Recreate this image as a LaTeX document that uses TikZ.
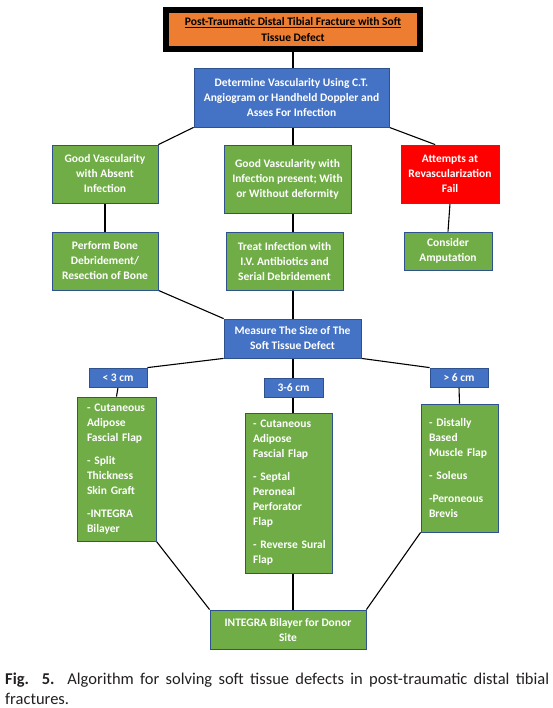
\documentclass[tikz,border=0pt]{standalone}
\usepackage{fontspec}
\setmainfont{Carlito}
\usepackage{xcolor}
\usepackage{tikz}
\usetikzlibrary{calc}
\pgfdeclarelayer{background}
\pgfsetlayers{background,main}
\definecolor{boxgreen}{HTML}{70AD47}
\definecolor{boxblue}{HTML}{4472C4}
\definecolor{boxorange}{HTML}{ED7D31}
\definecolor{boxred}{HTML}{FF0000}
\definecolor{boxedge}{HTML}{2F528F}
\definecolor{captext}{HTML}{231F20}
\tikzset{
	basebox/.style={
		rectangle,
		draw=boxedge, line width=0.8pt,
		text=white,
		align=center,
		inner sep=2pt,
		font={\fontsize{11.5pt}{15pt}\selectfont\bfseries}
	},
	bluebox/.style={basebox, fill=boxblue},
	greenbox/.style={basebox, fill=boxgreen},
	redbox/.style={basebox, fill=boxred},
	listbox/.style={
		greenbox,
		align=left,
		inner xsep=0pt,
		execute at begin node={\leftskip=#1}
	},
	titlebox/.style={
		rectangle,
		draw=black, line width=6pt,
		fill=boxorange,
		text=black,
		align=center,
		font={\fontsize{11.5pt}{16pt}\selectfont\bfseries}
	},
	boxsize/.style 2 args={minimum width=#1, minimum height=#2},
	line/.style={draw, line width=1.1pt},
	caption/.style={
		text width=544pt,
		align=justify,
		inner sep=0pt,
		text=captext,
		font={\fontsize{16.5pt}{20pt}\selectfont}
	},
}
\begin{document}
\begin{tikzpicture}[x=1pt,y=-1pt]
	\useasboundingbox (0,0) rectangle (553,708);
	% top of the tree
	\node[titlebox, boxsize={254pt}{39pt}] (title) at (293,29.5) {\underline{Post-Traumatic Distal Tibial Fracture with Soft}\\Tissue Defect};
	\node[bluebox, boxsize={195pt}{59pt}] (vasc) at (291.5,97.5) {Determine Vascularity Using C.T.\\Angiogram or Handheld Doppler and\\Asses For Infection};
	\node[greenbox, boxsize={106pt}{58pt}] (good) at (105,174) {Good Vascularity\\with Absent\\Infection};
	\node[greenbox, boxsize={127pt}{68pt}] (infect) at (287.5,179) {Good Vascularity with\\Infection present; With\\or Without deformity};
	\node[redbox, boxsize={98pt}{58pt}] (fail) at (450,174) {Attempts at\\Revascularization\\Fail};
	\node[greenbox, boxsize={106pt}{58pt}] (bone) at (105,261) {Perform Bone\\Debridement/\\Resection of Bone};
	\node[greenbox, boxsize={117pt}{58pt}] (treat) at (284.5,261) {Treat Infection with\\I.V. Antibiotics and\\Serial Debridement};
	\node[greenbox, boxsize={88pt}{38pt}] (amput) at (448,251) {Consider\\Amputation};
	% size of the defect
	\node[bluebox, boxsize={137pt}{39pt}] (measure) at (292.5,338.5) {Measure The Size of The\\Soft Tissue Defect};
	\node[bluebox, boxsize={58pt}{19pt}] (small) at (118,377.5) {< 3 cm};
	\node[bluebox, boxsize={59pt}{19pt}] (medium) at (293.5,387.5) {3-6 cm};
	\node[bluebox, boxsize={58pt}{19pt}] (large) at (459,377.5) {> 6 cm};
	\node[listbox=10pt, text width=79pt, minimum height=144pt] (listsmall) at (116.5,469) {- Cutaneous\\Adipose\\Fascial Flap\\[8pt]- Split\\Thickness\\Skin Graft\\[8pt]-INTEGRA\\Bilayer};
	\node[listbox=8pt, text width=87pt, minimum height=160pt] (listmedium) at (288.5,493) {- Cutaneous\\Adipose\\Fascial Flap\\[8pt]- Septal\\Peroneal\\Perforator\\Flap\\[8pt]- Reverse Sural\\Flap};
	\node[listbox=8pt, text width=77pt, minimum height=128pt] (listlarge) at (459.5,468) {- Distally\\Based\\Muscle Flap\\[8pt]- Soleus\\[8pt]-Peroneous\\Brevis};
	\node[greenbox, boxsize={156pt}{39pt}] (donor) at (288,629.5) {INTEGRA Bilayer for Donor\\Site};
	\node[caption, anchor=base west] (figcap) at (5,684) {\textbf{Fig. 5.} Algorithm for solving soft tissue defects in post-traumatic distal tibial\linebreak fractures.};
	% connectors
	\coordinate (axis) at (293,0);
	\coordinate (failtop) at ($(fail.north west)!0.35!(fail.north east)$);
	\begin{pgfonlayer}{background}
		\foreach \from/\to in {axis |- title.south/axis |- vasc.north,
			vasc.south west/good.north east, axis |- vasc.south/axis |- infect.north,
			vasc.south east/failtop, good.south/bone.north,
			axis |- infect.south/axis |- treat.north, fail.south/amput.north,
			bone.south east/measure.north west, axis |- treat.south/axis |- measure.north,
			measure.south west/small.north east, axis |- measure.south/axis |- medium.north,
			measure.south east/large.north west, small.south/listsmall.north,
			axis |- medium.south/axis |- listmedium.north, large.south/listlarge.north,
			listsmall.south east/donor.north west, axis |- listmedium.south/axis |- donor.north,
			listlarge.south west/donor.north east}
		\draw[line] (\from) -- (\to);
	\end{pgfonlayer}
\end{tikzpicture}
\end{document}
